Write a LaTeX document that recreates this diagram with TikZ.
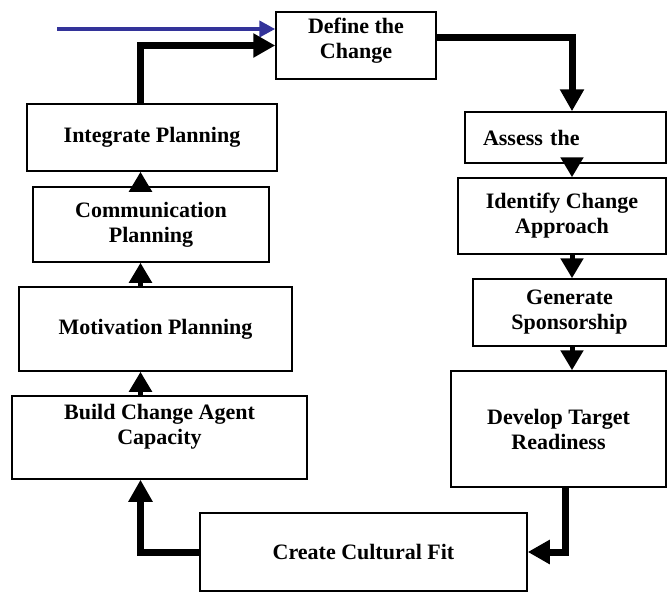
\documentclass[tikz,border=0pt]{standalone}
\usepackage{fontspec}
\setmainfont{Liberation Serif}
\usetikzlibrary{arrows.meta,calc}
\definecolor{arrowblue}{RGB}{51,51,153}
\begin{document}
\begin{tikzpicture}[x=1pt,y=-1pt,
  box/.style={draw, line width=1.5pt, inner sep=0pt, align=center,
    font=\fontsize{22}{25}\selectfont\bfseries},
  txt/.style={inner sep=0pt, align=center, font=\fontsize{22}{25}\selectfont\bfseries},
  smallarrow/.style={line width=5pt, -{Triangle[length=20pt,width=22pt]}},
  thickarrow/.style={line width=7pt, -{Triangle[length=22pt,width=23pt]}},
  bluearrow/.style={draw=arrowblue, line width=4.5pt, -{Triangle[length=16pt,width=16pt]}, arrowblue}
]
\useasboundingbox (0,0) rectangle (667,592);

\coordinate (colL) at (140.5,0);
\coordinate (colR) at (572,0);
\coordinate (colD) at (565,0);

% boxes
\node[box, minimum width=160pt, minimum height=67pt] (define) at (356,45.5) {};
\node[txt] (defineT) at (356,40.5) {Define the\\Change};
\node[box, minimum width=201pt, minimum height=51pt, inner xsep=18pt, text width=165pt, align=left] (assess) at (565.5,137.5) {Assess the};
\node[box, minimum width=208pt, minimum height=76pt] (identify) at (562,216) {Identify Change\\Approach};
\node[box, minimum width=193pt, minimum height=67pt] (generate) at (569.5,312.5) {Generate\\Sponsorship};
\node[box, minimum width=215pt, minimum height=116pt] (develop) at (558.5,429) {Develop Target\\Readiness};
\node[box, minimum width=327pt, minimum height=78pt] (create) at (363.5,552) {Create Cultural Fit};
\node[box, minimum width=295pt, minimum height=83pt] (build) at (159.5,437.5) {};
\node[txt] (buildT) at (159.5,427) {Build Change Agent\\Capacity};
\node[box, minimum width=273pt, minimum height=84pt] (motiv) at (155.5,329) {Motivation Planning};
\node[box, minimum width=236pt, minimum height=75pt] (comm) at (151,224.5) {Communication\\Planning};
\node[box, minimum width=250pt, minimum height=67pt] (integ) at (152,137.5) {Integrate Planning};

% incoming blue arrow
\coordinate (bstart) at (57,29);
\draw[bluearrow] (bstart) -- (define.west |- bstart);

% thick connectors
\draw[thickarrow] (integ.north -| colL) |- (define.west);
\draw[thickarrow] ($(define.east)+(0,-8.5)$) -| (assess.north -| colR);
\draw[thickarrow] (develop.south -| colD) |- (create.east);
\draw[thickarrow] (create.west) -| (build.south -| colL);

% small connectors, right column (downwards)
\draw[smallarrow] (assess.south -| colR) -- (identify.north -| colR);
\draw[smallarrow] (identify.south -| colR) -- (generate.north -| colR);
\draw[smallarrow] (generate.south -| colR) -- (develop.north -| colR);

% small connectors, left column (upwards)
\draw[smallarrow] (build.north -| colL) -- (motiv.south -| colL);
\draw[smallarrow] (motiv.north -| colL) -- (comm.south -| colL);
\draw[smallarrow] (comm.north -| colL) -- (integ.south -| colL);
\end{tikzpicture}
\end{document}
